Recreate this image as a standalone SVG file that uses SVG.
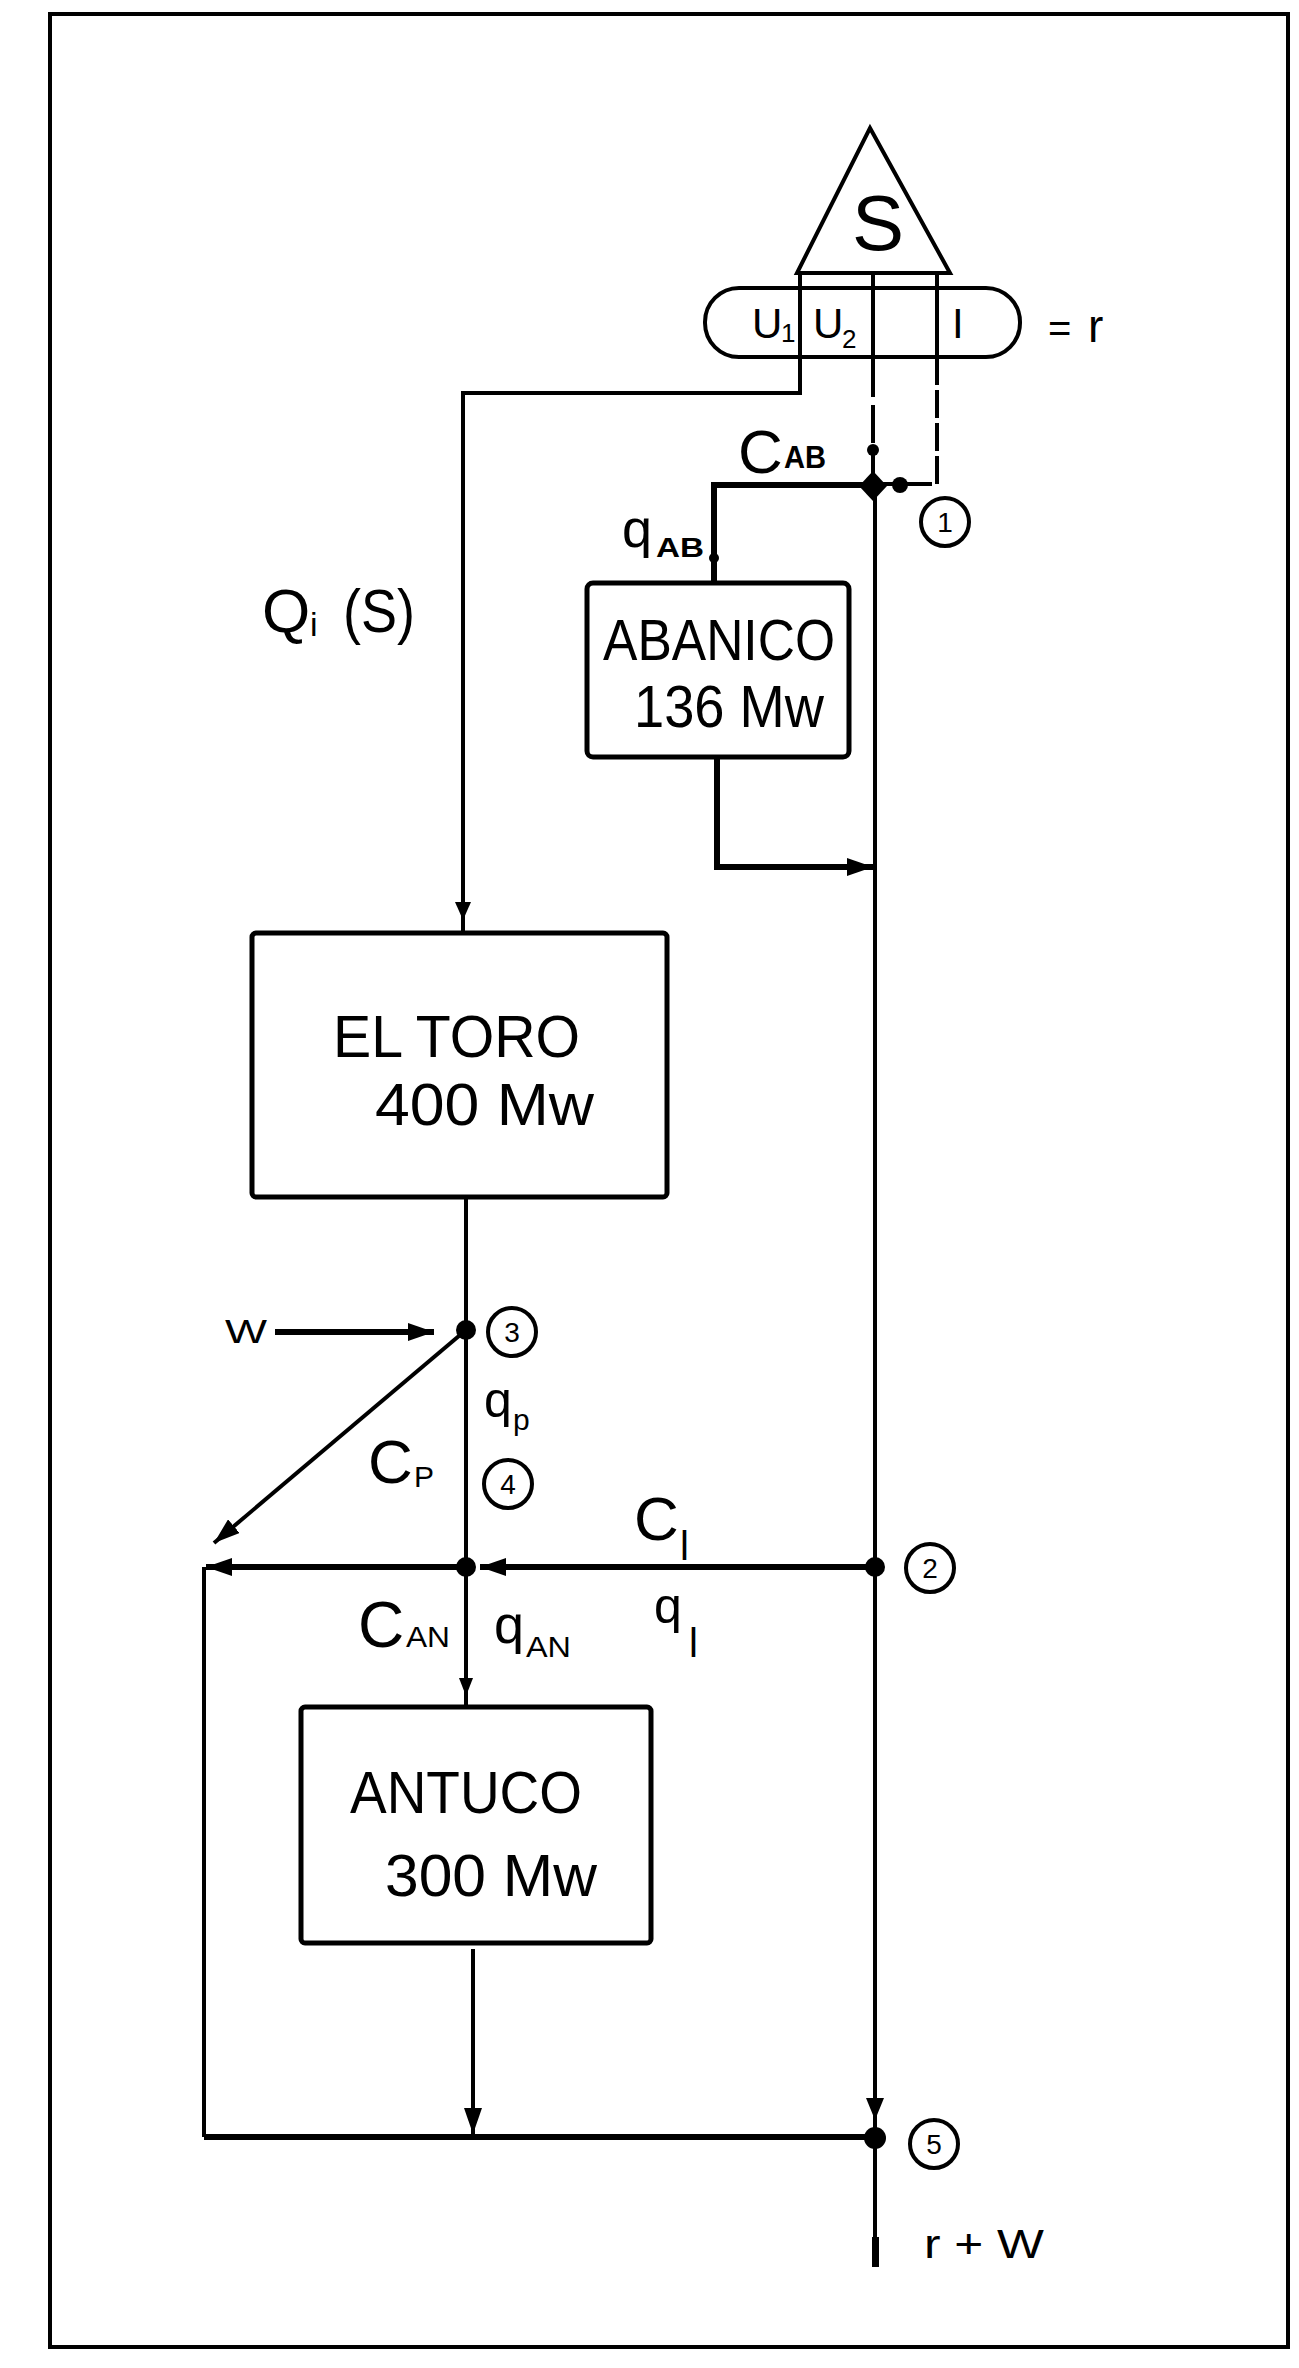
<svg xmlns="http://www.w3.org/2000/svg" width="1299" height="2368" viewBox="0 0 1299 2368">
<style>
.ln{stroke:#000;stroke-width:4;fill:none;stroke-linejoin:miter}
.thk{stroke:#000;stroke-width:6;fill:none}
.box{fill:#fff;stroke:#000;stroke-width:5}
.t{font-family:"Liberation Sans",Arial,sans-serif;fill:#000}
.c{fill:none;stroke:#000;stroke-width:4}
.d{fill:#000}
.dg{font-family:"Liberation Sans",Arial,sans-serif;fill:#000;font-size:28px;text-anchor:middle}
</style>
<defs>
<marker id="arr" markerUnits="userSpaceOnUse" markerWidth="26" markerHeight="18" refX="26" refY="9" orient="auto"><path d="M0,0 L26,9 L0,18 z" fill="#000"/></marker>
</defs>
<rect x="0" y="0" width="1299" height="2368" fill="#fff"/>
<rect x="50" y="14" width="1238" height="2333" fill="none" stroke="#000" stroke-width="4"/>

<g id="connectors">
<path class="ln" d="M800,357 V393 H463 V933"/>
<path class="d" d="M455,902 L471,902 L463,920 z"/>
<path class="ln" d="M873,357 V443" stroke-dasharray="40 8"/>
<path class="ln" d="M873,450 V487"/>
<path class="ln" d="M937,357 V484 H873" stroke-dasharray="28 5"/>
<path class="thk" d="M873,485 H714 V583"/>
<path class="ln" d="M875,487 V2267"/>
<path class="thk" d="M717,757 V867 H873" marker-end="url(#arr)"/>
<path class="ln" d="M466,1197 V1707"/>
<path class="d" d="M459,1678 L473,1678 L466,1696 z"/>
<path class="thk" d="M275,1332 H434" marker-end="url(#arr)"/>
<path class="ln" d="M466,1330 L214,1543" marker-end="url(#arr)"/>
<path class="thk" d="M875,1567 H480" marker-end="url(#arr)"/>
<path class="thk" d="M466,1567 H206" marker-end="url(#arr)"/>
<path class="ln" d="M204,1567 V2137"/>
<path class="thk" d="M204,2137 H875"/>
<path class="ln" d="M473,1949 V2134" marker-end="url(#arr)"/>
<path class="d" d="M866,2098 L884,2098 L875,2120 z"/>
<rect class="d" x="872" y="2237" width="7" height="30"/>
<circle class="d" cx="873" cy="450" r="6"/>
<circle class="d" cx="900" cy="485" r="8"/>
<circle class="d" cx="714" cy="558" r="5"/>
</g>

<g id="source-S">
<path class="c" d="M870,128 L950,273 L797,273 z"/>
<rect class="c" x="705" y="288" width="315" height="69" rx="34" ry="34"/>
<line class="ln" x1="800" y1="273" x2="800" y2="357"/>
<line class="ln" x1="873" y1="273" x2="873" y2="357"/>
<line class="ln" x1="937" y1="273" x2="937" y2="357"/>
<text class="t" x="878" y="250" font-size="78" text-anchor="middle">S</text>
<text class="t" x="752" y="338" font-size="42">U</text>
<text class="t" x="781" y="342" font-size="26">1</text>
<text class="t" x="813" y="338" font-size="42">U</text>
<text class="t" x="842" y="348" font-size="26">2</text>
<text class="t" x="952" y="338" font-size="42">I</text>
<text class="t" x="1048" y="342" font-size="40">=</text>
<text class="t" x="1088" y="342" font-size="46">r</text>
</g>

<g id="node1">
<path class="d" d="M873,471 L887,486 L873,501 L859,486 z"/>
<circle class="c" cx="945" cy="522" r="24"/>
<text class="dg" x="945" y="532">1</text>
</g>

<g id="abanico">
<rect class="box" x="587" y="583" width="262" height="174" rx="6"/>
<text class="t" x="603" y="660" font-size="58" textLength="232" lengthAdjust="spacingAndGlyphs">ABANICO</text>
<text class="t" x="634" y="727" font-size="60" textLength="190" lengthAdjust="spacingAndGlyphs">136 Mw</text>
</g>

<g id="eltoro">
<rect class="box" x="252" y="933" width="415" height="264" rx="4"/>
<text class="t" x="333" y="1057" font-size="60" textLength="247" lengthAdjust="spacingAndGlyphs">EL TORO</text>
<text class="t" x="375" y="1125" font-size="60" textLength="219" lengthAdjust="spacingAndGlyphs">400 Mw</text>
</g>

<g id="antuco">
<rect class="box" x="301" y="1707" width="350" height="236" rx="4"/>
<text class="t" x="350" y="1813" font-size="60" textLength="232" lengthAdjust="spacingAndGlyphs">ANTUCO</text>
<text class="t" x="385" y="1896" font-size="60" textLength="212" lengthAdjust="spacingAndGlyphs">300 Mw</text>
</g>

<g id="node2">
<circle class="d" cx="875" cy="1567" r="10"/>
<circle class="c" cx="930" cy="1568" r="24"/>
<text class="dg" x="930" y="1578">2</text>
</g>
<g id="node3">
<circle class="d" cx="466" cy="1330" r="10"/>
<circle class="c" cx="512" cy="1332" r="24"/>
<text class="dg" x="512" y="1342">3</text>
</g>
<g id="node4">
<circle class="d" cx="466" cy="1567" r="10"/>
<circle class="c" cx="508" cy="1484" r="24"/>
<text class="dg" x="508" y="1494">4</text>
</g>
<g id="node5">
<circle class="d" cx="875" cy="2138" r="11"/>
<circle class="c" cx="934" cy="2144" r="24"/>
<text class="dg" x="934" y="2154">5</text>
</g>

<g id="labels">
<text class="t" x="262" y="632" font-size="62">Q</text>
<text class="t" x="310" y="636" font-size="34">i</text>
<text class="t" x="343" y="632" font-size="62" textLength="72" lengthAdjust="spacingAndGlyphs">(S)</text>
<text class="t" x="738" y="473" font-size="62">C</text>
<text class="t" x="784" y="468" font-size="32" font-weight="bold" textLength="42" lengthAdjust="spacingAndGlyphs">AB</text>
<text class="t" x="622" y="547" font-size="54">q</text>
<text class="t" x="656" y="557" font-size="28" font-weight="bold" textLength="48" lengthAdjust="spacingAndGlyphs">AB</text>
<text class="t" x="225" y="1343" font-size="34" textLength="42" lengthAdjust="spacingAndGlyphs">W</text>
<text class="t" x="484" y="1417" font-size="50">q</text>
<text class="t" x="513" y="1430" font-size="30">p</text>
<text class="t" x="368" y="1483" font-size="62">C</text>
<text class="t" x="414" y="1487" font-size="30">P</text>
<text class="t" x="634" y="1540" font-size="62">C</text>
<text class="t" x="680" y="1560" font-size="40">l</text>
<text class="t" x="654" y="1623" font-size="50">q</text>
<text class="t" x="689" y="1657" font-size="40">l</text>
<text class="t" x="358" y="1647" font-size="64">C</text>
<text class="t" x="406" y="1647" font-size="30" textLength="44" lengthAdjust="spacingAndGlyphs">AN</text>
<text class="t" x="494" y="1643" font-size="54">q</text>
<text class="t" x="526" y="1657" font-size="30" textLength="45" lengthAdjust="spacingAndGlyphs">AN</text>
<text class="t" x="924" y="2258" font-size="40" textLength="120" lengthAdjust="spacingAndGlyphs">r + W</text>
</g>
</svg>
